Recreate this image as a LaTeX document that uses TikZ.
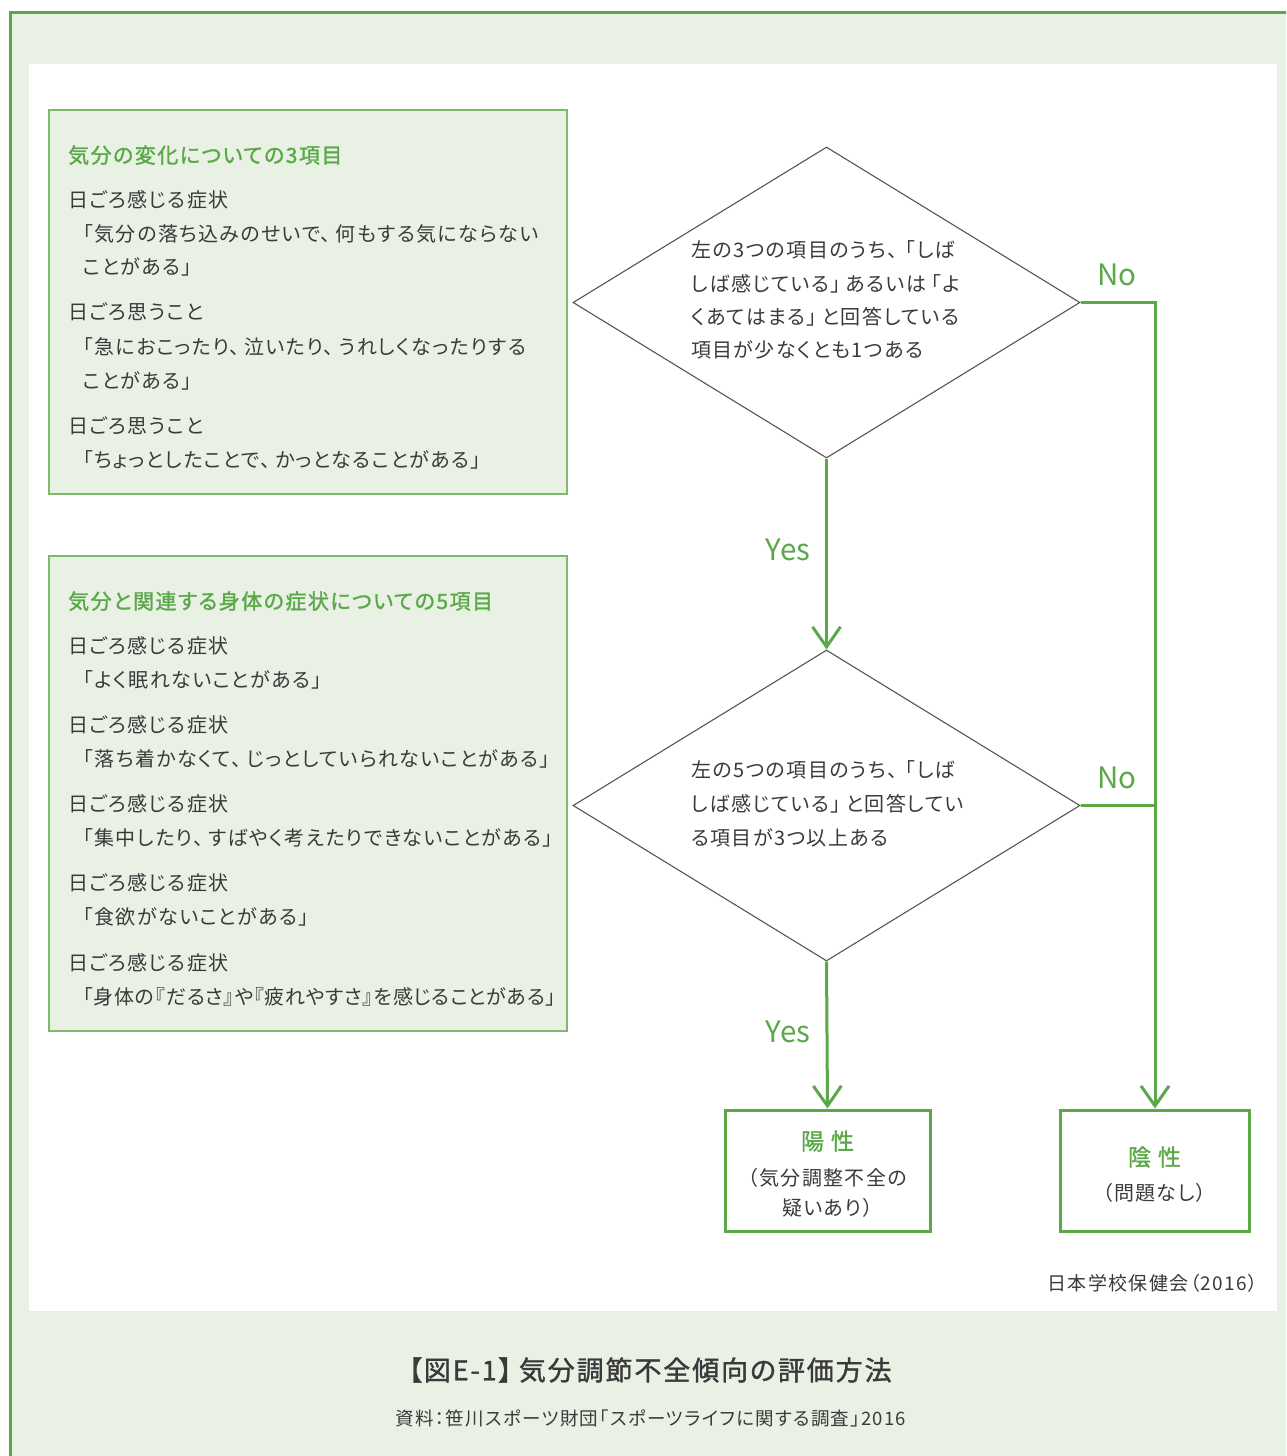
\documentclass[tikz,border=0pt]{standalone}
\usepackage{fontspec}
\setmainfont{Noto Sans CJK JP}[RawFeature=+palt,LetterSpace=7]
\newfontfamily\medfont{Noto Sans CJK JP}[RawFeature=+palt,LetterSpace=7,FakeBold=1.3]
\newfontfamily\ynfont{Noto Sans CJK JP}
\newfontfamily\tightfont{Noto Sans CJK JP}[RawFeature=+palt,LetterSpace=3.5]
\newcommand\jgap{\hspace{0.25em}}
\usetikzlibrary{shapes.geometric,arrows.meta}
\definecolor{gline}{HTML}{5AA848}
\definecolor{gfill}{HTML}{E9F1E5}
\definecolor{gbox}{HTML}{7DBA6C}
\definecolor{txt}{HTML}{3A3A3A}
\definecolor{dline}{HTML}{555555}
\tikzset{
  body/.style={anchor=base west,inner sep=0pt,text=txt,font=\fontsize{20}{24}\selectfont},
  head/.style={anchor=base west,inner sep=0pt,text=gline,font=\fontsize{21}{25}\medfont},
  dtext/.style={anchor=base west,inner sep=0pt,text=txt,font=\fontsize{20}{24}\selectfont},
  yn/.style={inner sep=0pt,text=gline,font=\fontsize{29.5}{32}\ynfont},
  dia/.style={diamond,draw=dline,line width=1.1pt,minimum width=507pt,minimum height=311pt,inner sep=0pt,fill=white},
  result/.style={rectangle,draw=gline,line width=3pt,fill=white,inner sep=0pt},
  flow/.style={draw=gline,line width=3pt,-{Straight Barb[length=20pt,width=28pt,line width=3pt]}},
  plain/.style={draw=gline,line width=3pt},
  infobox/.style={draw=gbox,line width=1.5pt,fill=gfill},
}
\begin{document}
\begin{tikzpicture}[x=1pt,y=-1pt]
\path[use as bounding box] (0,0) rectangle (1286,1456);
\fill[white] (0,0) rectangle (1286,1456);
\begin{scope}
\clip (0,0) rectangle (1286,1456);
\fill[gfill] (9,11) rectangle (1300,1470);
\draw[gline,line width=3pt] (1300,12) -- (10.5,12) -- (10.5,1470);
\end{scope}
\fill[white] (29,64) rectangle (1277,1311);

% left boxes
\path[infobox] (49,110) rectangle (567,494);
\path[infobox] (49,556) rectangle (567,1031);

\node[head] (t1) at (68,163) {気分の変化についての3項目};
\node[body] (a1) at (68,207.5) {日ごろ感じる症状};
\node[body] (a2) at (83,241.5) {「気分の落ち込みのせいで、\jgap 何もする気にならない};
\node[body] (a3) at (83,274.5) {ことがある」};
\node[body] (a4) at (68,319.5) {日ごろ思うこと};
\node[body] (a5) at (83,354.5) {「急におこったり、\jgap 泣いたり、\jgap うれしくなったりする};
\node[body] (a6) at (83,388.5) {ことがある」};
\node[body] (a7) at (68,433.5) {日ごろ思うこと};
\node[body] (a8) at (83,467.5) {「ちょっとしたことで、\jgap かっとなることがある」};

\node[head] (t2) at (68,609) {気分と関連する身体の症状についての5項目};
\node[body] (b1) at (68,653.5) {日ごろ感じる症状};
\node[body] (b2) at (83,687.5) {「よく眠れないことがある」};
\node[body] (b3) at (68,732.5) {日ごろ感じる症状};
\node[body] (b4) at (83,766.5) {「落ち着かなくて、\jgap じっとしていられないことがある」};
\node[body] (b5) at (68,811.5) {日ごろ感じる症状};
\node[body] (b6) at (83,845.5) {「集中したり、\jgap すばやく考えたりできないことがある」};
\node[body] (b7) at (68,890.5) {日ごろ感じる症状};
\node[body] (b8) at (83,924.5) {「食欲がないことがある」};
\node[body] (b9) at (68,970.5) {日ごろ感じる症状};
\node[body,font=\fontsize{20}{24}\tightfont] (b10) at (83,1004.5) {「身体の『だるさ』や『疲れやすさ』を感じることがある」};

% diamonds
\node[dia] (d1) at (826.5,302.5) {};
\node[dia] (d2) at (826.5,805.5) {};
\node[dtext] (q1a) at (691,257.5) {左の3つの項目のうち、\hspace{0.4em}「しば};
\node[dtext] (q1b) at (691,291.5) {しば感じている」\jgap あるいは\jgap「よ};
\node[dtext] (q1c) at (691,324.5) {くあてはまる」\jgap と回答している};
\node[dtext] (q1d) at (691,357.5) {項目が少なくとも1つある};
\node[dtext] (q2a) at (691,777.5) {左の5つの項目のうち、\hspace{0.4em}「しば};
\node[dtext] (q2b) at (691,811.5) {しば感じている」\jgap と回答してい};
\node[dtext] (q2c) at (691,845.5) {る項目が3つ以上ある};

% result boxes
\node[result,minimum width=205pt,minimum height=121pt] (pos) at (827.5,1170.5) {};
\node[result,minimum width=189pt,minimum height=121pt] (neg) at (1154.5,1170.5) {};
\node[inner sep=0pt,text=gline,font=\fontsize{23}{26}\medfont] (posT) at (827.5,1141) {陽\hspace{0.3em}性};
\node[inner sep=0pt,text=txt,font=\fontsize{20}{24}\selectfont] (posA) at (827.5,1178) {（気分調整不全の};
\node[inner sep=0pt,text=txt,font=\fontsize{20}{24}\selectfont] (posB) at (827.5,1208) {疑いあり）};
\node[inner sep=0pt,text=gline,font=\fontsize{23}{26}\medfont] (negT) at (1154.5,1157) {陰\hspace{0.3em}性};
\node[inner sep=0pt,text=txt,font=\fontsize{20}{24}\selectfont] (negA) at (1154.5,1193) {（問題なし）};

% connectors
\coordinate (c1) at (1155,302.5);
\coordinate (c2) at (1155,805.5);
\draw[flow] (d1.south) -- (d2.north);
\draw[flow] (d2.south) -- (pos.north);
\draw[flow] (d1.east) -- (c1) -- (c1 |- neg.north);
\draw[plain] (d2.east) -- (c2);

\node[yn] (y1) at (788,550) {Yes};
\node[yn] (y2) at (788,1032) {Yes};
\node[yn] (n1) at (1117,275) {No};
\node[yn] (n2) at (1117,778) {No};

% credits and caption
\node[anchor=east,inner sep=0pt,text=txt,font=\fontsize{19}{22}\selectfont] (cred) at (1258,1283) {日本学校保健会（2016）};
\node[inner sep=0pt,text=txt,font=\fontsize{27}{30}\medfont] (cap) at (650,1370) {【図E-1】\jgap 気分調節不全傾向の評価方法};
\node[inner sep=0pt,text=txt,font=\fontsize{18.5}{22}\selectfont] (src) at (651,1418) {資料：笹川スポーツ財団「スポーツライフに関する調査」2016};
\end{tikzpicture}
\end{document}
